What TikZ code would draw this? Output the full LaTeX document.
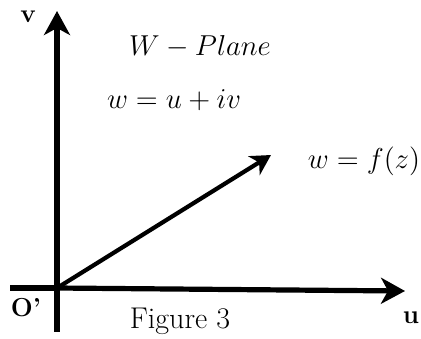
\documentclass[tikz,border=0pt]{standalone}
\usetikzlibrary{arrows.meta}
\newcommand{\axislabel}[3]{\node[axlbl] (#1) at (#2){#3};}
\begin{document}
\begin{tikzpicture}
        [
        x=0.5pt, y=-0.5pt,
        axis/.style={line width=2.6pt,-{Stealth[length=12pt,width=13pt,inset=3.5pt]}},
        vec/.style={line width=2.1pt,-{Stealth[length=10pt,width=11pt,inset=3pt]}},
        plain/.style={line width=2.6pt},
        axlbl/.style={font=\fontsize{13}{15}\selectfont\bfseries},
        eqn/.style={font=\fontsize{15}{17}\selectfont},
        ]
        \useasboundingbox (0,0) rectangle (421,338);
        \coordinate (O) at (57,288);
        \coordinate (vtop) at (57,11);
        \coordinate (vbot) at (57,332);
        \coordinate (uleft) at (10,288);
        \coordinate (uright) at (405,291);
        \coordinate (fz) at (271,155);
        \draw[plain] (O) -- (vbot);
        \draw[axis] (O) -- (vtop);
        \draw[plain] (uleft) -- (O);
        \draw[axis] (O) -- (uright);
        \draw[vec] (O) -- (fz);
        \axislabel{vlbl}{28,17}{v}
        \axislabel{ulbl}{411,318}{u}
        \axislabel{olbl}{26,308}{O'}
        \node[eqn] (plane) at (200,47) {$W - Plane$};
        \node[eqn] (wuv) at (174,100) {$w = u + iv$};
        \node[eqn] (wfz) at (364,161) {$w = f(z)$};
        \node[eqn] (fig) at (180,321) {Figure 3};
    \end{tikzpicture}
\end{document}
